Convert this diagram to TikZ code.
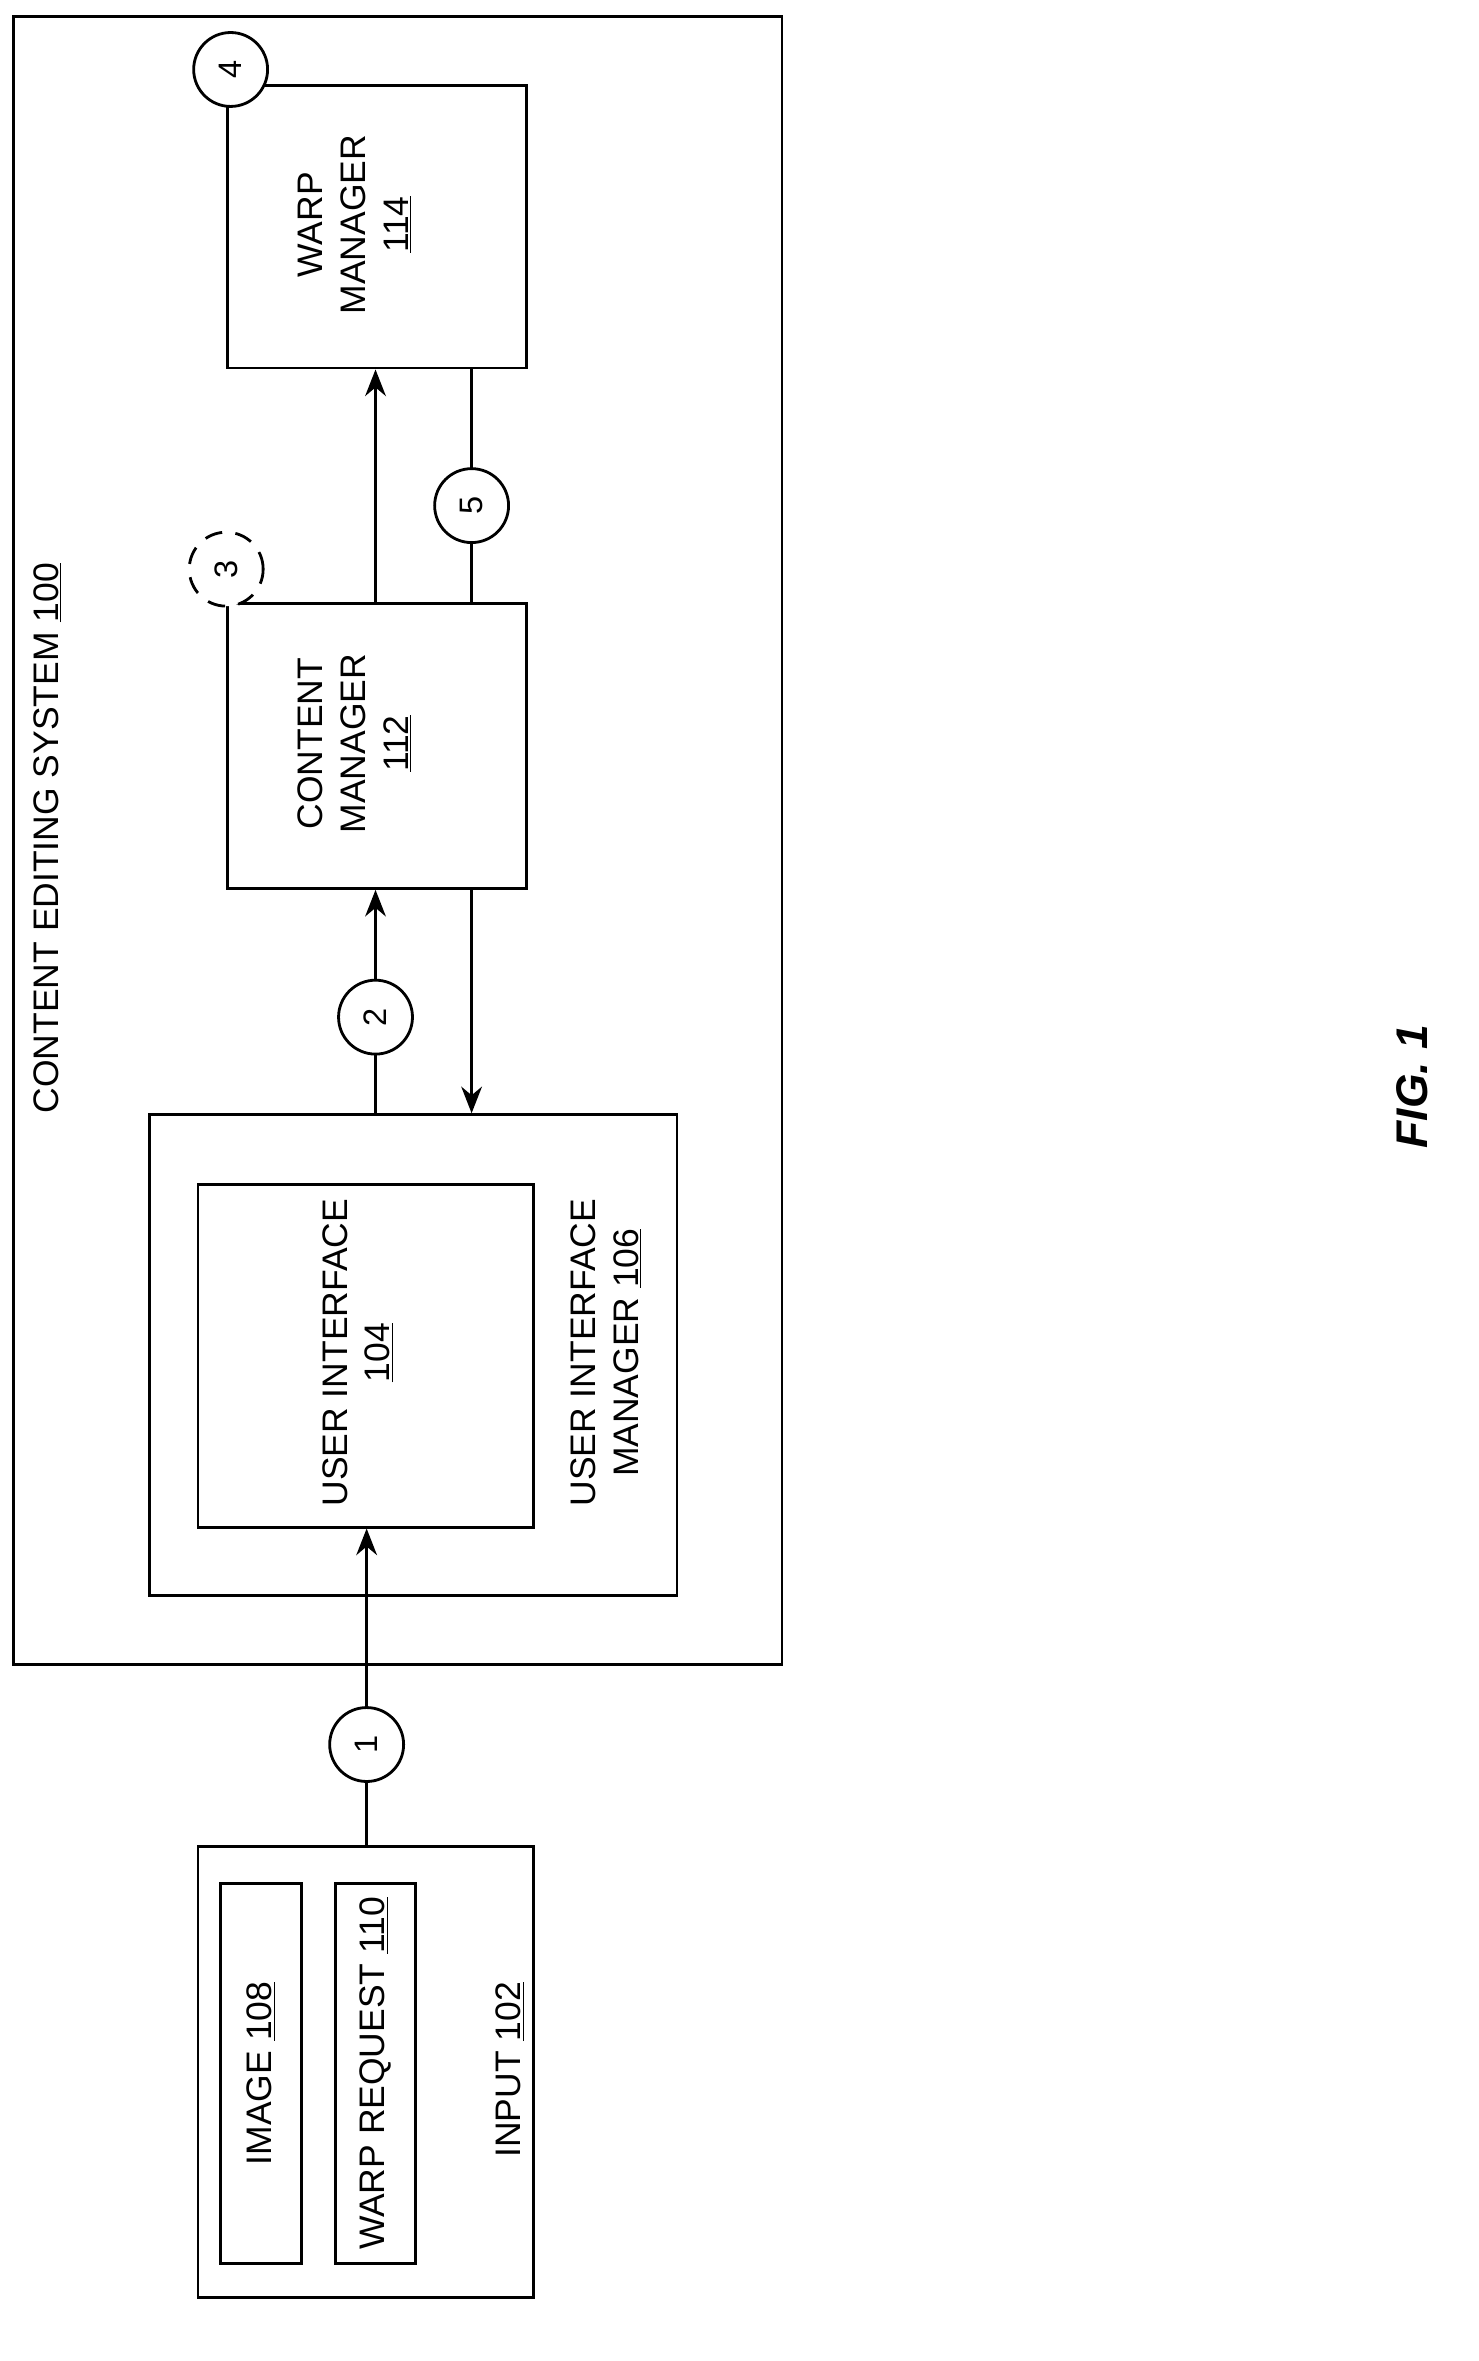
\documentclass[tikz,border=0pt]{standalone}
\usepackage{fontspec}
\setmainfont{Liberation Sans}
\usetikzlibrary{arrows.meta,positioning}
\begin{document}
\begin{tikzpicture}[x=1pt,y=-1pt,line width=1.9pt,font=\fontsize{24}{29}\selectfont,
  box/.style={draw,inner sep=0pt,anchor=north west},
  txt/.style={rotate=90,align=center},
  stage/.style={draw,circle,fill=white,minimum size=50pt,inner sep=0pt,font=\fontsize{22}{26}\selectfont},
  flow/.style={-{Stealth[length=18pt,width=14pt]}}]
\useasboundingbox (0,0) rectangle (1000,1597);
% boxes
\node [box,minimum width=520pt,minimum height=1115pt] (ces) at (8,10) {};
\node [box,minimum width=357pt,minimum height=325pt] (uim) at (100,753) {};
\node [box,minimum width=227pt,minimum height=232pt] (ui) at (133,800) {};
\node [box,minimum width=202pt,minimum height=193pt] (cm) at (153,407) {};
\node [box,minimum width=202pt,minimum height=191pt] (wm) at (153,57) {};
\node [box,minimum width=227pt,minimum height=305pt] (in) at (133,1248) {};
\node [box,minimum width=55pt,minimum height=257pt] (img) at (148,1273) {};
\node [box,minimum width=54pt,minimum height=257pt] (req) at (226,1273) {};
% labels
\node [txt] (cesl) at (32,567) {CONTENT EDITING SYSTEM \underline{100}};
\node [txt] (uil) at (242,915) {USER INTERFACE\\\underline{104}};
\node [txt] (uiml) at (410,915) {USER INTERFACE\\MANAGER \underline{106}};
\node [txt] (cml) at (240,503) {CONTENT\\MANAGER\\\underline{112}};
\node [txt] (wml) at (240,152) {WARP\\MANAGER\\\underline{114}};
\node [txt] (imgl) at (img.center) {IMAGE \underline{108}};
\node [txt] (reql) at (req.center) {WARP REQUEST \underline{110}};
\node [txt] (inl) at (345,1400) {INPUT \underline{102}};
\node [txt,font=\fontsize{30}{36}\selectfont\bfseries\itshape] (fig) at (955,735) {FIG. 1};
% connector columns
\coordinate (c1) at (248,1180);
\coordinate (c2) at (254,688);
\coordinate (c5) at (319,342);
\draw [flow] (in.north -| c1) -- (ui.south -| c1);
\draw [flow] (uim.north -| c2) -- (cm.south -| c2);
\draw [flow] (cm.south -| c5) -- (uim.north -| c5);
\draw [flow] (cm.north -| c2) -- (wm.south -| c2);
\draw (cm.north -| c5) -- (wm.south -| c5);
% steps
\node [stage] (s1) at (c1) {\rotatebox{90}{1}};
\node [stage] (s2) at (c2) {\rotatebox{90}{2}};
\node [stage,dash pattern=on 12pt off 9pt] (s3) at (153,385) {\rotatebox{90}{3}};
\node [stage] (s4) at (156,47) {\rotatebox{90}{4}};
\node [stage] (s5) at (c5) {\rotatebox{90}{5}};
\end{tikzpicture}
\end{document}
